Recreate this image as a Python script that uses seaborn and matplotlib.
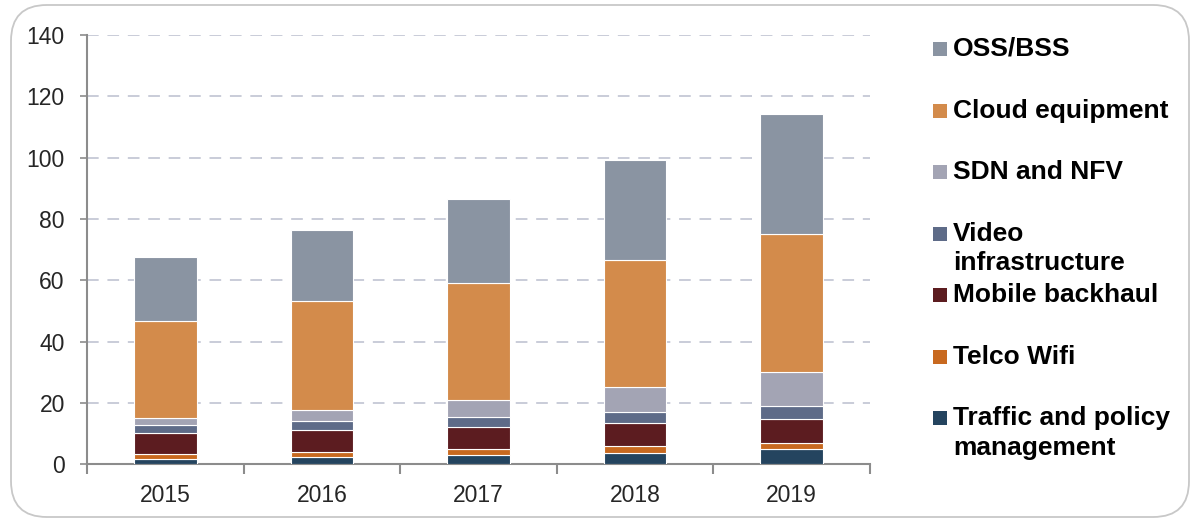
import matplotlib.pyplot as plt
import numpy as np
import pandas as pd
import seaborn as sns
from matplotlib.patches import FancyBboxPatch, Rectangle

years = ["2015", "2016", "2017", "2018", "2019"]

# stacked bottom -> top
traffic = [1.8, 2.5, 3.0, 3.8, 4.9]
telco_wifi = [1.7, 1.6, 2.0, 2.2, 2.1]
mobile_backhaul = [6.8, 7.2, 7.3, 7.4, 7.8]
video_infra = [2.6, 2.9, 3.2, 3.8, 4.3]
sdn_nfv = [2.1, 3.5, 5.4, 7.9, 11.1]
cloud_equipment = [31.7, 35.6, 38.3, 41.5, 45.0]
oss_bss = [20.9, 23.2, 27.4, 32.7, 39.1]

series_names = [
	"Traffic and policy\nmanagement",
	"Telco Wifi",
	"Mobile backhaul",
	"Video\ninfrastructure",
	"SDN and NFV",
	"Cloud equipment",
	"OSS/BSS",
]
series_values = [traffic, telco_wifi, mobile_backhaul, video_infra, sdn_nfv, cloud_equipment, oss_bss]
series_colors = ["#24445F", "#C8691F", "#5C1C20", "#5E6B88", "#A3A4B4", "#D38B4B", "#8A94A2"]


def main() -> None:
	sns.set_style("white")
	plt.rcParams["font.family"] = ["Liberation Sans", "DejaVu Sans"]

	df = pd.DataFrame({"year": years})
	for name, vals in zip(series_names, series_values):
		df[name] = vals

	fig = plt.figure(figsize=(11.94, 5.21), dpi=100)
	ax = fig.add_axes([87 / 1194, 1 - 464.3 / 521, (870 - 87) / 1194, (464.3 - 35) / 521])

	bottom = np.zeros(len(years))
	for name, color in zip(series_names, series_colors):
		sns.barplot(
			data=df,
			x="year",
			y=name,
			color=color,
			bottom=bottom,
			width=0.4,
			edgecolor="white",
			linewidth=0.8,
			saturation=1,
			errorbar=None,
			ax=ax,
			zorder=3,
		)
		bottom = bottom + df[name].to_numpy()

	ax.set_ylim(0, 140)
	ax.set_xlim(-0.5, len(years) - 0.5)
	ax.set_yticks(range(0, 141, 20))
	ax.yaxis.grid(True, linestyle=(0, (6, 4.5)), color="#C9CCD8", linewidth=1.4, zorder=0)
	ax.set_axisbelow(True)
	ax.set_xlabel("")
	ax.set_ylabel("")

	for side in ["top", "right"]:
		ax.spines[side].set_visible(False)
	for side in ["left", "bottom"]:
		ax.spines[side].set_color("#8C8C8C")
		ax.spines[side].set_linewidth(1.5)

	ax.tick_params(axis="y", which="major", direction="out", length=5, width=1.2,
		color="#8C8C8C", labelsize=16.5, pad=11, left=True)
	ax.tick_params(axis="x", which="major", length=0, labelsize=16.5, pad=14)
	ax.set_xticks(np.arange(-0.5, len(years), 1.0), minor=True)
	ax.tick_params(axis="x", which="minor", direction="out", length=7, width=1.5,
		color="#8C8C8C", bottom=True)

	# legend, top entry first
	legend_y = [49, 111, 172, 234, 295, 357, 418]
	for i, (name, color) in enumerate(zip(series_names[::-1], series_colors[::-1])):
		yc = legend_y[i]
		fig.patches.append(Rectangle(
			(933 / 1194, 1 - (yc + 7) / 521), 14 / 1194, 14 / 521,
			transform=fig.transFigure, facecolor=color, edgecolor="none"))
		for j, line in enumerate(name.split("\n")):
			fig.text(953 / 1194, 1 - (yc + j * 29.5) / 521, line,
				ha="left", va="center", fontsize=19, fontweight="bold", color="black")

	fig.patches.append(FancyBboxPatch(
		(11 / 1194, 4 / 521), 1178 / 1194, 512 / 521,
		boxstyle="round,pad=0,rounding_size=0.03",
		transform=fig.transFigure, facecolor="none", edgecolor="#C8C8C8", linewidth=1.3,
		mutation_aspect=1194 / 521))

	fig.savefig("out.png", dpi=100)
	plt.close(fig)


if __name__ == "__main__":
	main()
